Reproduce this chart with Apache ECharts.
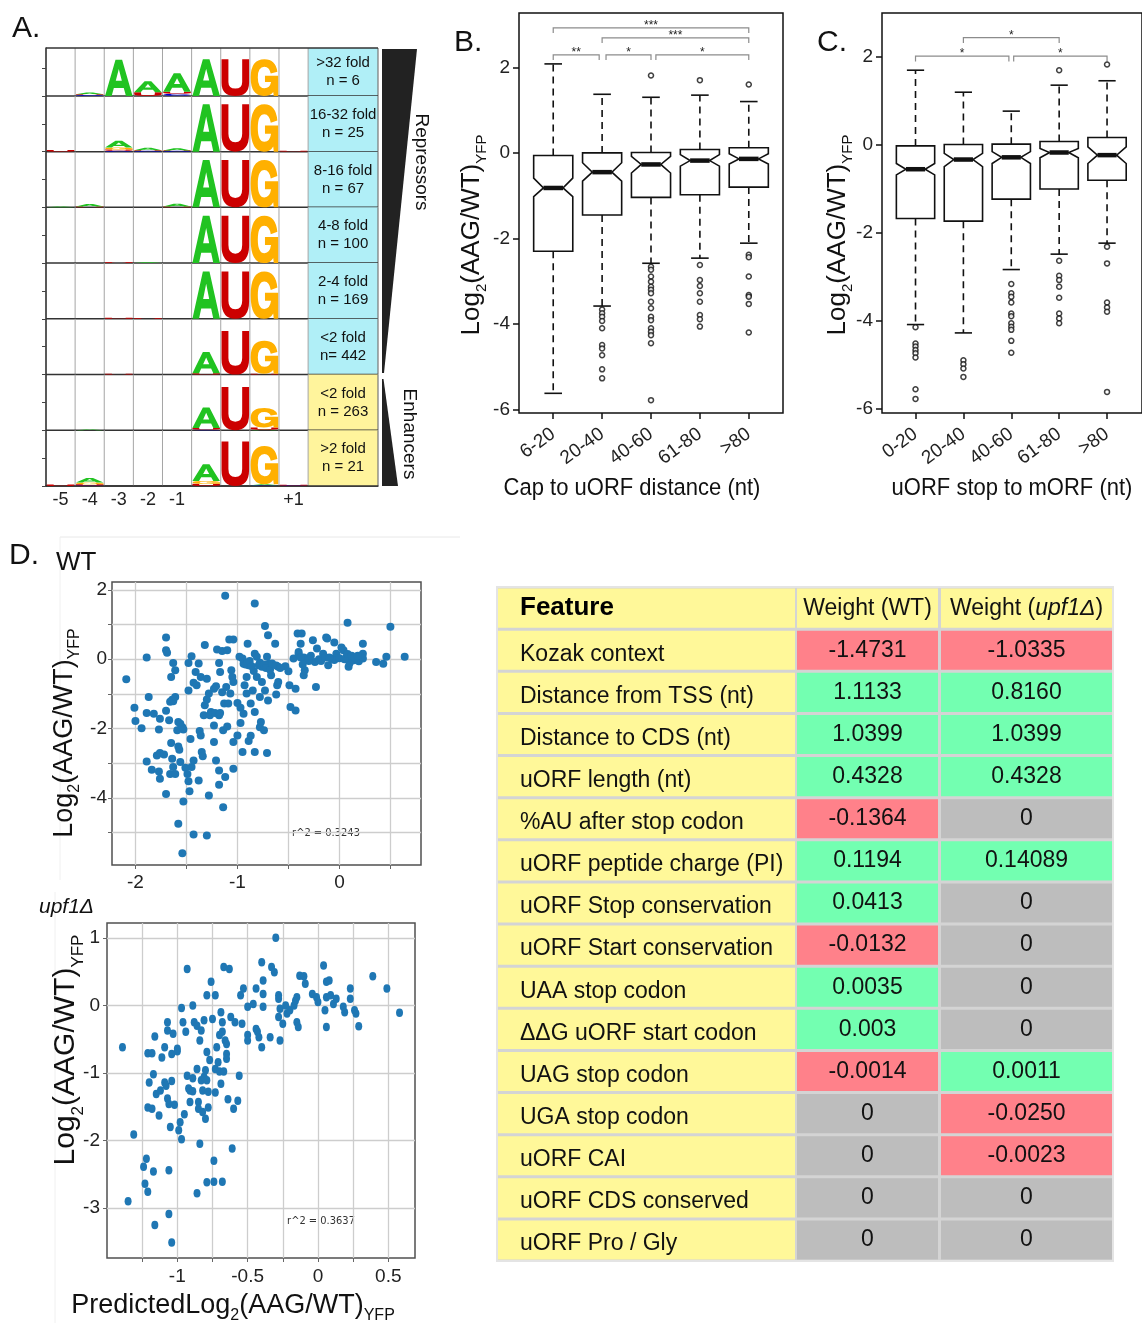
<!DOCTYPE html>
<html><head><meta charset="utf-8">
<script src="https://cdn.jsdelivr.net/npm/echarts@6/dist/echarts.min.js"></script>
<style>html,body{margin:0;padding:0;background:#fff}#c{width:1142px;height:1323px}</style>
</head><body><div id="c"></div>
<script>
// ---------------- DATA ----------------
// Panel A: sequence logos
const logoPositions = ['-5', '-4', '-3', '-2', '-1', '+1'];
const logoPositionCols = [1, 2, 3, 4, 5, 9];
const foldBins = ['>32 fold\nn = 6', '16-32 fold\nn = 25', '8-16 fold\nn = 67', '4-8 fold\nn = 100',
  '2-4 fold\nn = 169', '<2 fold\nn= 442', '<2 fold\nn = 263', '>2 fold\nn = 21'];
const foldClass = ['R', 'R', 'R', 'R', 'R', 'R', 'E', 'E'];
// [row, column, letter, bits]  (stacked bottom-to-top within a cell)
const logoLetters = [
  [0,2,'C',0.03],[0,2,'U',0.03],[0,2,'A',0.06],[0,3,'A',1.30],[0,4,'U',0.13],[0,4,'A',0.40],
  [0,5,'C',0.08],[0,5,'U',0.07],[0,5,'A',0.66],[0,6,'A',1.32],[0,7,'U',1.32],[0,8,'G',1.32],
  [1,1,'U',0.06],[1,3,'C',0.03],[1,3,'U',0.05],[1,3,'G',0.07],[1,3,'A',0.24],[1,4,'C',0.02],[1,4,'U',0.03],[1,4,'A',0.09],
  [1,5,'C',0.02],[1,5,'U',0.02],[1,5,'A',0.08],[1,6,'A',1.70],[1,7,'U',1.70],[1,8,'G',1.70],[1,9,'U',0.02],
  [2,1,'A',0.02],[2,2,'U',0.03],[2,2,'A',0.09],[2,5,'U',0.03],[2,5,'A',0.10],[2,6,'A',1.70],[2,7,'U',1.70],[2,8,'G',1.70],
  [3,3,'U',0.01],[3,4,'A',0.02],[3,6,'A',1.70],[3,7,'U',1.70],[3,8,'G',1.70],
  [4,3,'U',0.04],[4,4,'U',0.02],[4,6,'A',1.70],[4,7,'U',1.70],[4,8,'G',1.70],
  [5,3,'U',0.03],[5,6,'U',0.05],[5,6,'A',0.76],[5,7,'U',1.56],[5,8,'U',0.03],[5,8,'G',1.18],
  [6,2,'A',0.02],[6,6,'C',0.02],[6,6,'U',0.06],[6,6,'A',0.74],[6,7,'U',1.55],[6,8,'A',0.02],[6,8,'U',0.08],[6,8,'G',0.70],
  [7,1,'U',0.05],[7,2,'C',0.02],[7,2,'U',0.04],[7,2,'G',0.07],[7,2,'A',0.16],[7,6,'U',0.08],[7,6,'G',0.10],[7,6,'A',0.60],
  [7,7,'U',1.60],[7,8,'C',0.03],[7,8,'A',0.03],[7,8,'G',1.38],[7,9,'C',0.02],[7,9,'U',0.02]
];

// Panel B: cap to uORF distance
const capCats = ['6-20', '20-40', '40-60', '61-80', '>80'];
// [lower whisker, Q1, median, Q3, upper whisker]
const capBox = [
  [-5.62, -2.30, -0.82, -0.06, 2.08],
  [-3.58, -1.45, -0.45, 0.00, 1.37],
  [-2.58, -1.04, -0.27, 0.01, 1.30],
  [-2.46, -0.98, -0.18, 0.08, 1.35],
  [-2.11, -0.80, -0.14, 0.12, 1.20]
];
const capNotch = [[-1.02, -0.59], [-0.66, -0.23], [-0.47, -0.08], [-0.31, -0.04], [-0.26, -0.02]];
const capOutliers = [
  [],
  [-3.66, -3.75, -3.83, -3.93, -4.10, -4.49, -4.57, -4.73, -5.06, -5.27],
  [1.81, -2.66, -2.73, -2.89, -3.01, -3.13, -3.20, -3.28, -3.48, -3.63, -3.83, -3.91, -4.10, -4.18, -4.26, -4.45, -5.78],
  [1.70, -2.62, -2.97, -3.11, -3.28, -3.48, -3.79, -3.89, -4.06],
  [1.60, -2.38, -2.44, -2.89, -3.32, -3.36, -3.53, -4.20]
];
// [from, to, level, label]
const capSig = [[1, 5, 2.92, '***'], [2, 5, 2.69, '***'], [1, 1.94, 2.29, '**'], [2.08, 3, 2.29, '*'], [3.1, 5, 2.29, '*']];

// Panel C: uORF stop to mORF
const stopCats = ['0-20', '20-40', '40-60', '61-80', '>80'];
const stopBox = [
  [-4.08, -1.67, -0.55, -0.02, 1.70],
  [-4.27, -1.73, -0.33, 0.01, 1.20],
  [-2.83, -1.23, -0.28, 0.02, 0.77],
  [-2.48, -1.00, -0.17, 0.08, 1.36],
  [-2.23, -0.80, -0.23, 0.17, 1.46]
];
const stopNotch = [[-0.68, -0.42], [-0.49, -0.19], [-0.42, -0.15], [-0.29, -0.08], [-0.42, -0.04]];
const stopOutliers = [
  [-4.14, -4.51, -4.58, -4.66, -4.73, -4.83, -5.55, -5.77],
  [-4.89, -4.98, -5.08, -5.27],
  [-3.16, -3.37, -3.45, -3.58, -3.83, -3.89, -4.05, -4.13, -4.20, -4.45, -4.72],
  [1.70, -2.63, -2.97, -3.07, -3.22, -3.47, -3.83, -3.94, -4.05],
  [1.83, -2.31, -2.69, -3.58, -3.69, -3.79, -5.61]
];
const stopSig = [[1, 2.95, 2.02, '*'], [3.05, 5, 2.02, '*'], [2, 4, 2.44, '*']];

// Panel D: predicted vs measured
const wtPoints = [
  [-2.09,-0.58],[-2.01,-1.40],[-2.00,-1.78],[-1.94,-1.99],[-1.89,-1.55],[-1.87,-1.09],[-1.89,0.05],[-1.89,-2.95],[-1.84,-3.19],[-1.82,-1.57],
  [-1.77,-2.03],[-1.79,-2.78],[-1.76,-2.71],[-1.76,-1.72],[-1.77,-3.24],[-1.76,-3.45],[-1.72,-2.75],[-1.70,-3.89],[-1.70,0.63],[-1.70,0.26],
  [-1.69,0.19],[-1.70,-1.49],[-1.67,-1.76],[-1.66,-1.23],[-1.64,-1.17],[-1.63,-1.21],[-1.65,-0.51],[-1.63,-0.11],[-1.61,-0.32],[-1.61,-1.09],
  [-1.65,-2.42],[-1.64,-2.87],[-1.63,-3.11],[-1.66,-3.31],[-1.61,-3.31],[-1.59,-2.05],[-1.58,-1.81],[-1.58,-2.52],[-1.57,-2.61],[-1.56,-1.86],
  [-1.54,-1.96],[-1.56,-2.97],[-1.58,-4.75],[-1.54,-5.60],[-1.53,-4.11],[-1.53,-2.03],[-1.51,-3.13],[-1.49,-3.31],[-1.48,-3.52],[-1.47,-3.81],
  [-1.48,-0.11],[-1.48,-0.90],[-1.45,0.09],[-1.46,-2.30],[-1.45,-3.11],[-1.43,-2.92],[-1.43,-5.06],[-1.43,-0.68],[-1.40,-0.75],[-1.41,-0.37],
  [-1.38,-0.12],[-1.37,-2.07],[-1.36,-2.20],[-1.38,-3.50],[-1.36,-0.51],[-1.35,-2.68],[-1.34,-2.80],[-1.33,-1.62],[-1.32,-1.33],[-1.32,0.41],
  [-1.30,-1.16],[-1.30,-5.09],[-1.30,-0.56],[-1.28,-3.93],[-1.28,-0.99],[-1.27,-1.62],[-1.26,-1.52],[-1.23,-0.85],[-1.23,-2.39],[-1.23,-1.91],
  [-1.22,-1.55],[-1.21,-2.92],[-1.21,-0.78],[-1.20,0.28],[-1.18,-0.11],[-1.18,-1.62],[-1.18,-3.21],[-1.18,-3.62],[-1.17,-1.55],[-1.17,-0.37],
  [-1.15,0.24],[-1.15,-0.95],[-1.14,-4.27],[-1.14,-2.05],[-1.13,-1.28],[-1.12,1.83],[-1.12,-3.40],[-1.11,-0.80],[-1.10,0.26],[-1.10,-1.94],
  [-1.09,-1.28],[-1.08,0.57],[-1.07,-0.99],[-1.06,-0.32],[-1.05,-0.51],[-1.04,-2.39],[-1.04,-3.16],[-1.04,0.57],[-1.04,-0.66],[-1.00,-2.20],
  [-1.00,-1.26],[-0.98,0.07],[-0.97,-1.40],[-0.97,-1.84],[-0.95,-2.68],[-0.95,0.02],[-0.94,-0.13],[-0.94,-1.57],[-0.93,-0.75],[-0.91,-0.99],
  [-0.91,-0.51],[-0.90,0.45],[-0.89,-0.17],[-0.89,-2.36],[-0.87,-1.28],[-0.87,-2.21],[-0.85,-0.90],[-0.84,-0.34],[-0.83,-2.68],[-0.83,1.61],
  [-0.83,0.16],[-0.83,-1.52],[-0.81,-0.51],[-0.81,0.07],[-0.79,-0.17],[-0.78,-1.09],[-0.78,-1.96],[-0.77,-1.81],[-0.76,-0.66],[-0.76,-0.22],
  [-0.74,-2.05],[-0.73,0.96],[-0.73,-0.90],[-0.71,-2.71],[-0.71,0.07],[-0.70,0.69],[-0.70,-1.19],[-0.69,-0.13],[-0.67,-0.46],[-0.63,0.45],
  [-0.62,-1.02],[-0.61,-0.75],[-0.60,-0.22],[-0.60,-0.66],[-0.53,-0.20],[-0.50,-0.35],[-0.49,-0.75],[-0.48,-1.38],[-0.43,-0.85],[-0.43,-1.48],
  [-0.45,0.02],[-0.41,0.74],[-0.40,0.21],[-0.38,0.45],[-0.37,0.74],[-0.35,-0.46],[-0.34,-0.32],[-0.32,0.02],[-0.26,0.55],[-0.23,-0.80],
  [-0.24,-0.08],[-0.22,0.31],[-0.16,0.16],[-0.13,0.63],[-0.12,0.60],[-0.11,-0.17],[-0.08,0.02],[-0.05,0.48],[-0.03,0.16],[0.02,0.34],
  [0.04,0.26],[0.07,0.07],[0.08,1.05],[0.09,-0.22],[0.10,-0.11],[0.14,-0.03],[0.19,-0.06],[0.23,0.45],[0.23,0.16],[0.23,0.02],
  [0.36,-0.08],[0.43,-0.13],[0.46,0.07],[0.50,0.94],[0.64,0.07],
  [-0.92,-0.15],[-0.90,-0.10],[-0.88,-0.05],[-0.86,-0.20],[-0.78,-0.10],[-0.74,-0.15],[-0.72,-0.25],[-0.68,-0.30],[-0.66,-0.12],[-0.62,-0.18],
  [-0.58,-0.25],[-0.35,0.05],[-0.30,-0.05],[-0.28,0.10],[-0.20,0.00],[-0.18,-0.05],[-0.14,0.05],[-0.05,-0.02],[0.00,0.03],[0.05,0.00],
  [0.08,0.15],[0.12,0.10],[0.15,0.05],[0.18,0.10],[-0.10,0.05],[-0.40,0.15],[-0.38,0.05],[-0.36,-0.15]
];
const upfPoints = [
  [-1.39,-0.62],[-1.35,-2.90],[-1.31,-1.91],[-1.24,-2.39],[-1.23,-2.64],[-1.22,-2.27],[-1.21,-2.76],[-1.21,-0.71],[-1.21,-1.51],[-1.20,-1.14],
  [-1.18,-0.71],[-1.18,-1.53],[-1.17,-2.46],[-1.17,-1.02],[-1.16,-0.46],[-1.16,-3.25],[-1.15,-1.31],[-1.13,-1.63],[-1.12,-1.26],[-1.11,-0.77],
  [-1.09,-0.62],[-1.09,-1.14],[-1.08,-1.19],[-1.07,-0.25],[-1.07,-0.37],[-1.07,-1.38],[-1.06,-3.09],[-1.06,-2.44],[-1.06,-1.46],[-1.05,-1.80],
  [-1.04,-0.72],[-1.04,-3.51],[-1.04,-1.12],[-1.03,-0.42],[-1.02,-1.47],[-1.00,-0.68],[-1.00,-0.64],[-0.99,-1.85],[-0.98,-1.73],[-0.97,-1.98],
  [-0.97,-0.04],[-0.96,-0.25],[-0.95,-1.61],[-0.94,-0.39],[-0.93,-1.04],[-0.93,0.54],[-0.92,-1.23],[-0.91,-1.43],[-0.91,-1.26],[-0.89,0.00],
  [-0.89,-1.08],[-0.89,-1.27],[-0.88,-0.25],[-0.86,-0.30],[-0.86,-2.78],[-0.86,-0.94],[-0.85,-1.43],[-0.85,-1.53],[-0.84,-0.52],[-0.84,-2.05],
  [-0.83,-0.37],[-0.83,-1.11],[-0.82,-1.58],[-0.82,-1.26],[-0.81,-0.22],[-0.81,-1.06],[-0.80,-1.68],[-0.80,-0.96],[-0.79,-2.62],[-0.79,-0.69],
  [-0.79,0.15],[-0.79,-1.11],[-0.78,-1.51],[-0.78,-1.28],[-0.77,-0.81],[-0.76,0.35],[-0.75,-0.20],[-0.74,-2.30],[-0.74,-2.61],[-0.73,-0.94],
  [-0.73,-1.29],[-0.73,0.15],[-0.72,-0.62],[-0.71,-0.84],[-0.70,-0.44],[-0.70,-0.98],[-0.69,-1.16],[-0.69,-0.10],[-0.68,-0.39],[-0.68,-2.61],
  [-0.68,-0.25],[-0.67,-0.98],[-0.67,0.57],[-0.66,-0.52],[-0.65,-0.57],[-0.65,-0.72],[-0.65,-0.79],[-0.64,-1.39],[-0.63,0.54],[-0.62,-0.17],
  [-0.61,-2.12],[-0.60,-1.53],[-0.59,-0.25],[-0.57,-1.41],[-0.56,-1.04],[-0.55,0.15],[-0.54,-0.27],[-0.53,0.25],[-0.50,-0.44],[-0.50,-0.52],
  [-0.50,-0.02],[-0.46,0.02],[-0.44,0.25],[-0.44,-0.35],[-0.43,-0.39],[-0.42,-0.47],[-0.40,-0.62],[-0.40,0.64],[-0.39,0.37],[-0.39,0.17],
  [-0.39,-0.02],[-0.34,-0.47],[-0.33,0.57],[-0.31,0.49],[-0.30,1.00],[-0.28,-0.17],[-0.28,0.15],[-0.28,0.10],[-0.27,-0.52],[-0.27,-0.05],
  [-0.25,-0.27],[-0.23,0.00],[-0.22,-0.12],[-0.20,-0.07],[-0.17,0.00],[-0.16,0.07],[-0.15,0.12],[-0.15,-0.25],[-0.14,-0.32],[-0.13,0.44],
  [-0.10,0.43],[-0.09,0.32],[-0.04,0.17],[-0.01,0.12],[0.00,0.05],[0.04,0.59],[0.05,-0.07],[0.06,0.12],[0.06,-0.32],[0.06,0.35],
  [0.08,0.37],[0.09,0.15],[0.11,0.02],[0.13,0.10],[0.18,-0.02],[0.19,-0.10],[0.23,0.25],[0.23,0.10],[0.26,-0.07],[0.27,-0.12],
  [0.29,-0.31],[0.39,0.43],[0.49,0.25],[0.58,-0.11]
];
const wtR2 = 'r^2 = 0.3243';
const upfR2 = 'r^2 = 0.3637';

// Panel D table
const features = ['Kozak context', 'Distance from TSS (nt)', 'Distance to CDS (nt)', 'uORF length (nt)', '%AU after stop codon',
  'uORF peptide charge (PI)', 'uORF Stop conservation', 'uORF Start conservation', 'UAA stop codon', '\u0394\u0394G uORF start codon',
  'UAG stop codon', 'UGA stop codon', 'uORF CAI', 'uORF CDS conserved', 'uORF Pro / Gly'];
const weightWT = ['-1.4731', '1.1133', '1.0399', '0.4328', '-0.1364', '0.1194', '0.0413', '-0.0132', '0.0035', '0.003', '-0.0014', '0', '0', '0', '0'];
const weightUpf1 = ['-1.0335', '0.8160', '1.0399', '0.4328', '0', '0.14089', '0', '0', '0', '0', '0.0011', '-0.0250', '-0.0023', '0', '0'];

// ---------------- STYLE / LAYOUT ----------------
const FONT = '"Liberation Sans", Arial, Helvetica, sans-serif';
const LETTER_COLORS = { A: '#21c321', U: '#cc0000', G: '#ffb000', C: '#0000cc' };
const LETTER_PATHS = {
  A: 'M0,100 L38,0 L62,0 L100,100 L76,100 L68,78 L32,78 L24,100 Z M39,58 L61,58 L50,26 Z',
  U: 'M0,0 L25,0 L25,62 Q25,80 50,80 Q75,80 75,62 L75,0 L100,0 L100,64 Q100,100 50,100 Q0,100 0,64 Z',
  G: 'M97,34 L73,39 Q68,21 50,21 Q26,21 26,50 Q26,79 50,79 Q70,79 74,62 L52,62 L52,45 L100,45 L100,100 L84,100 L82,89 Q72,100 48,100 Q0,100 0,50 Q0,0 50,0 Q91,0 97,34 Z',
  C: 'M100,64 Q94,100 50,100 Q0,100 0,50 Q0,0 50,0 Q94,0 100,36 L76,40 Q72,20 50,20 Q26,20 26,50 Q26,80 50,80 Q72,80 76,60 Z'
};
const CELL = { neg: '#ff818a', pos: '#73ffb1', zero: '#bdbdbd', label: '#fff899' };
const LOGO_Y_MIN = 0.14;   // first logo row is partly cropped in the figure

// build logo stacks
const stackTop = {};
const logoBuilt = logoLetters.map(([row, col, letter, bits]) => {
  const key = row + '_' + col;
  const base = stackTop[key] || 0;
  stackTop[key] = base + bits;
  return { row, col, letter, bottom: row + 1 - base / 2, top: row + 1 - (base + bits) / 2 };
});

function logRich(main, sub, prefix) {
  return {
    text: (prefix ? '{m|' + prefix + '}' : '') + '{m|Log}{s|2}{m|(AAG/WT)}{s|YFP}',
    rich: {
      m: { fontSize: main, fontFamily: FONT, fill: '#111', lineHeight: Math.round(main * 1.35) },
      s: { fontSize: sub, fontFamily: FONT, fill: '#111', verticalAlign: 'bottom', lineHeight: sub }
    }
  };
}

function boxRender(stats, notches) {
  return function (params, api) {
    const i = params.dataIndex;
    const [lo, q1, med, q3, hi] = stats[i];
    const [nLo, nHi] = notches[i];
    const x = i + 1, bw = 0.4, mw = 0.2, sw = 0.18;
    const P = (a, b) => api.coord([a, b]);
    const poly = [P(x - bw, q1), P(x - bw, nLo), P(x - mw, med), P(x - bw, nHi), P(x - bw, q3),
      P(x + bw, q3), P(x + bw, nHi), P(x + mw, med), P(x + bw, nLo), P(x + bw, q1)];
    const ln = (a, b, dash, w) => ({ type: 'line', shape: { x1: a[0], y1: a[1], x2: b[0], y2: b[1] },
      style: { stroke: '#111', lineWidth: w || 1.6, lineDash: dash || null } });
    return { type: 'group', children: [
      ln(P(x, q3), P(x, hi), [7, 5]), ln(P(x, q1), P(x, lo), [7, 5]),
      ln(P(x - sw, hi), P(x + sw, hi)), ln(P(x - sw, lo), P(x + sw, lo)),
      { type: 'polygon', shape: { points: poly }, style: { fill: '#fff', stroke: '#111', lineWidth: 1.6 } },
      ln(P(x - mw, med), P(x + mw, med), null, 4.5)
    ] };
  };
}
function sigRender(sig) {
  return function (params, api) {
    const [a, b, lvl, lab] = sig[params.dataIndex];
    const drop = 0.12;
    const p1 = api.coord([a, lvl - drop]), p2 = api.coord([a, lvl]), p3 = api.coord([b, lvl]), p4 = api.coord([b, lvl - drop]);
    return { type: 'group', children: [
      { type: 'polyline', shape: { points: [p1, p2, p3, p4] }, style: { stroke: '#8c8c8c', lineWidth: 1.2, fill: null } },
      { type: 'text', x: (p2[0] + p3[0]) / 2, y: p2[1] - 2,
        style: { text: lab, fontSize: 12, fontFamily: FONT, fill: '#222', textAlign: 'center', textVerticalAlign: 'middle' } }
    ] };
  };
}
function outlierData(list) {
  const out = [];
  list.forEach((vals, i) => vals.forEach(v => out.push([i + 1, v])));
  return out;
}

// ---------------- CHART ----------------
const chart = echarts.init(document.getElementById('c'), null, { renderer: 'canvas' });
const hidden = { show: false };
const rLabel = (cats) => ({ customValues: [1, 2, 3, 4, 5], formatter: v => cats[Math.round(v) - 1], rotate: 36,
  fontSize: 19, color: '#222', fontFamily: FONT, margin: 19 });
const rTick = (vals) => ({ show: true, customValues: vals, length: 6, lineStyle: { color: '#111', width: 1.5 } });
const logoTicks = [];
for (let t = 0.5; t <= 8; t += 0.5) logoTicks.push(t);

const option = {
  animation: false,
  backgroundColor: '#fff',
  textStyle: { fontFamily: FONT },
  grid: [
    { left: 46, top: 48, width: 332, height: 438 },
    { left: 519, top: 13, width: 264, height: 400, show: true, borderColor: '#111', borderWidth: 1.5, backgroundColor: 'transparent' },
    { left: 882, top: 13, width: 266, height: 400, show: true, borderColor: '#111', borderWidth: 1.5, backgroundColor: 'transparent' },
    { left: 112, top: 582, width: 309, height: 283, show: true, borderColor: '#505050', borderWidth: 1.5, backgroundColor: '#fff' },
    { left: 107, top: 923, width: 308, height: 335, show: true, borderColor: '#505050', borderWidth: 1.5, backgroundColor: '#fff' },
    { left: 497, top: 587, width: 616, height: 674, show: true, borderColor: '#e4e4e4', borderWidth: 2, backgroundColor: '#d4d4d4' }
  ],
  xAxis: [
    { gridIndex: 0, type: 'value', min: 0.5, max: 11.9,
      axisLine: { show: true, onZero: false, lineStyle: { color: '#222', width: 1.5 } }, axisTick: hidden, splitLine: hidden,
      axisLabel: { customValues: logoPositionCols, formatter: v => logoPositions[logoPositionCols.indexOf(Math.round(v))],
        fontSize: 18, color: '#222', fontFamily: FONT, margin: 5 } },
    { gridIndex: 1, type: 'value', min: 0.3, max: 5.7, axisLine: { show: false, onZero: false },
      axisTick: rTick([1, 2, 3, 4, 5]), axisLabel: rLabel(capCats), splitLine: hidden },
    { gridIndex: 2, type: 'value', min: 0.3, max: 5.73, axisLine: { show: false, onZero: false },
      axisTick: rTick([1, 2, 3, 4, 5]), axisLabel: rLabel(stopCats), splitLine: hidden },
    { gridIndex: 3, type: 'value', min: -2.23, max: 0.8, axisLine: { show: false, onZero: false },
      axisTick: { show: true, customValues: [-2, -1.5, -1, -0.5, 0, 0.5], length: 4, lineStyle: { color: '#666' } },
      axisLabel: { customValues: [-2, -1, 0], fontSize: 19, color: '#222', fontFamily: FONT, margin: 8 },
      splitLine: { show: true, lineStyle: { color: '#cdcdcd', width: 1.3 } } },
    { gridIndex: 4, type: 'value', min: -1.5, max: 0.69, axisLine: { show: false, onZero: false },
      axisTick: { show: true, customValues: [-1.25, -1, -0.75, -0.5, -0.25, 0, 0.25, 0.5], length: 4, lineStyle: { color: '#666' } },
      axisLabel: { customValues: [-1, -0.5, 0, 0.5], fontSize: 19, color: '#222', fontFamily: FONT, margin: 9 },
      splitLine: { show: true, lineStyle: { color: '#cdcdcd', width: 1.3 } } },
    { gridIndex: 5, type: 'value', min: 0, max: 1, show: false }
  ],
  yAxis: [
    { gridIndex: 0, type: 'value', min: LOGO_Y_MIN, max: 8, inverse: true,
      axisLine: { show: true, onZero: false, lineStyle: { color: '#222', width: 1.5 } },
      axisTick: { show: true, customValues: logoTicks, length: 4, lineStyle: { color: '#444' } }, axisLabel: hidden, splitLine: hidden },
    { gridIndex: 1, type: 'value', min: -6.08, max: 3.27, axisLine: { show: false, onZero: false },
      axisTick: rTick([-6, -4, -2, 0, 2]),
      axisLabel: { customValues: [-6, -4, -2, 0, 2], fontSize: 19, color: '#222', fontFamily: FONT, margin: 9 }, splitLine: hidden },
    { gridIndex: 2, type: 'value', min: -6.09, max: 3.0, axisLine: { show: false, onZero: false },
      axisTick: rTick([-6, -4, -2, 0, 2]),
      axisLabel: { customValues: [-6, -4, -2, 0, 2], fontSize: 19, color: '#222', fontFamily: FONT, margin: 9 }, splitLine: hidden },
    { gridIndex: 3, type: 'value', min: -5.94, max: 2.23, axisLine: { show: false, onZero: false },
      axisTick: { show: true, customValues: [-5, -4, -3, -2, -1, 0, 1, 2], length: 4, lineStyle: { color: '#666' } },
      axisLabel: { customValues: [-4, -2, 0, 2], fontSize: 19, color: '#222', fontFamily: FONT, margin: 5 },
      splitLine: { show: true, lineStyle: { color: '#cdcdcd', width: 1.3 } } },
    { gridIndex: 4, type: 'value', min: -3.74, max: 1.22, axisLine: { show: false, onZero: false },
      axisTick: { show: true, customValues: [-3, -2, -1, 0, 1], length: 4, lineStyle: { color: '#666' } },
      axisLabel: { customValues: [-3, -2, -1, 0, 1], fontSize: 19, color: '#222', fontFamily: FONT, margin: 7 },
      splitLine: { show: true, lineStyle: { color: '#cdcdcd', width: 1.3 } } },
    { gridIndex: 5, type: 'category', data: ['Feature'].concat(features), inverse: true, show: false }
  ],
  series: [
    // Panel A frame + fold-bin cells
    { type: 'custom', xAxisIndex: 0, yAxisIndex: 0, z: 2,
      data: foldBins.map((t, i) => [10.7, i + 0.5]), encode: { x: 0, y: 1 },
      renderItem: (params, api) => {
        const i = params.dataIndex;
        const tl = api.coord([0.5, Math.max(i, LOGO_Y_MIN)]), br = api.coord([11.9, i + 1]);
        const cx0 = api.coord([9.5, i + 0.5])[0];
        const ch = [
          { type: 'rect', shape: { x: cx0, y: tl[1], width: br[0] - cx0, height: br[1] - tl[1] },
            style: { fill: foldClass[i] === 'R' ? '#b0eff7' : '#fff49c' } }
        ];
        for (let k = 1; k <= 9; k++) {
          const x = api.coord([k + 0.5, i + 0.5])[0];
          ch.push({ type: 'line', shape: { x1: x, y1: tl[1], x2: x, y2: br[1] }, style: { stroke: '#a5a5a5', lineWidth: 1 } });
        }
        ch.push({ type: 'line', shape: { x1: br[0], y1: tl[1], x2: br[0], y2: br[1] }, style: { stroke: '#777', lineWidth: 1.2 } });
        ch.push({ type: 'line', shape: { x1: tl[0], y1: br[1], x2: br[0], y2: br[1] }, style: { stroke: '#333', lineWidth: 1.5 } });
        if (i === 0) ch.push({ type: 'line', shape: { x1: tl[0], y1: tl[1], x2: br[0], y2: tl[1] }, style: { stroke: '#333', lineWidth: 1.5 } });
        ch.push({ type: 'text', x: (cx0 + br[0]) / 2, y: (tl[1] + br[1]) / 2,
          style: { text: foldBins[i], fontSize: 15, lineHeight: 18, fontFamily: FONT, fill: '#111', textAlign: 'center', textVerticalAlign: 'middle' } });
        return { type: 'group', children: ch };
      } },
    // Panel A letters
    { type: 'custom', xAxisIndex: 0, yAxisIndex: 0, z: 3,
      data: logoBuilt.map(d => [d.col, (d.top + d.bottom) / 2]), encode: { x: 0, y: 1 },
      renderItem: (params, api) => {
        const d = logoBuilt[params.dataIndex];
        const p0 = api.coord([d.col - 0.5, d.bottom]), p1 = api.coord([d.col + 0.5, d.top]);
        const x = Math.min(p0[0], p1[0]) + 0.8, w = Math.abs(p1[0] - p0[0]) - 1.6;
        const h = Math.max(Math.abs(p1[1] - p0[1]), 0.8);
        const y = Math.max(p0[1], p1[1]) - h;
        return { type: 'path', shape: { pathData: LETTER_PATHS[d.letter], x, y, width: w, height: h, layout: 'cover' },
          style: { fill: LETTER_COLORS[d.letter] } };
      } },
    // Panel B
    { type: 'custom', xAxisIndex: 1, yAxisIndex: 1, z: 3, data: capBox.map((b, i) => [i + 1, b[0], b[4]]), encode: { x: 0, y: [1, 2] },
      renderItem: boxRender(capBox, capNotch) },
    { type: 'scatter', xAxisIndex: 1, yAxisIndex: 1, z: 4, data: outlierData(capOutliers), symbol: 'circle', symbolSize: 5,
      itemStyle: { color: '#fff', borderColor: '#111', borderWidth: 1.5 } },
    { type: 'custom', xAxisIndex: 1, yAxisIndex: 1, z: 3, data: capSig.map(s => [s[0], s[2]]), encode: { x: 0, y: 1 },
      renderItem: sigRender(capSig) },
    // Panel C
    { type: 'custom', xAxisIndex: 2, yAxisIndex: 2, z: 3, data: stopBox.map((b, i) => [i + 1, b[0], b[4]]), encode: { x: 0, y: [1, 2] },
      renderItem: boxRender(stopBox, stopNotch) },
    { type: 'scatter', xAxisIndex: 2, yAxisIndex: 2, z: 4, data: outlierData(stopOutliers), symbol: 'circle', symbolSize: 5,
      itemStyle: { color: '#fff', borderColor: '#111', borderWidth: 1.5 } },
    { type: 'custom', xAxisIndex: 2, yAxisIndex: 2, z: 3, data: stopSig.map(s => [s[0], s[2]]), encode: { x: 0, y: 1 },
      renderItem: sigRender(stopSig) },
    // Panel D scatters
    { type: 'scatter', xAxisIndex: 3, yAxisIndex: 3, data: wtPoints, symbolSize: 8, itemStyle: { color: '#1f77b4', opacity: 1 } },
    { type: 'scatter', xAxisIndex: 4, yAxisIndex: 4, data: upfPoints, symbolSize: [7, 8.5], itemStyle: { color: '#1f77b4', opacity: 1 } },
    // Table
    { type: 'custom', xAxisIndex: 5, yAxisIndex: 5, data: ['Feature'].concat(features).map((f, i) => [0.5, i]), encode: { x: 0, y: 1 },
      renderItem: (params, api) => {
        const i = params.dataIndex;
        const cs = params.coordSys;
        const c = api.coord([0.5, i]);
        const band = api.size([0, 1])[1];
        const top = c[1] - band / 2 + 1.5, h = band - 3, cy = c[1];
        const cols = [[1, 298], [300, 441], [444, 615]];
        const colFill = v => (v === '0' ? CELL.zero : (v.charAt(0) === '-' ? CELL.neg : CELL.pos));
        const ch = [];
        if (i === 0) {
          cols.forEach(cc => ch.push({ type: 'rect', shape: { x: cs.x + cc[0], y: top, width: cc[1] - cc[0], height: h }, style: { fill: CELL.label } }));
          ch.push({ type: 'text', x: cs.x + 23, y: cy, style: { text: 'Feature', fontSize: 26, fontWeight: 'bold', fontFamily: FONT, fill: '#000', textAlign: 'left', textVerticalAlign: 'middle' } });
          ch.push({ type: 'text', x: cs.x + (cols[1][0] + cols[1][1]) / 2, y: cy + 1, style: { text: 'Weight (WT)', fontSize: 23, fontFamily: FONT, fill: '#111', textAlign: 'center', textVerticalAlign: 'middle' } });
          ch.push({ type: 'text', x: cs.x + (cols[2][0] + cols[2][1]) / 2, y: cy + 1, style: { text: '{n|Weight (}{i|upf1\u0394}{n|)}',
            rich: { n: { fontSize: 23, fontFamily: FONT, fill: '#111' }, i: { fontSize: 23, fontFamily: FONT, fontStyle: 'italic', fill: '#111' } },
            textAlign: 'center', textVerticalAlign: 'middle' } });
        } else {
          const wt = weightWT[i - 1], up = weightUpf1[i - 1];
          ch.push({ type: 'rect', shape: { x: cs.x + cols[0][0], y: top, width: cols[0][1] - cols[0][0], height: h }, style: { fill: CELL.label } });
          ch.push({ type: 'rect', shape: { x: cs.x + cols[1][0], y: top, width: cols[1][1] - cols[1][0], height: h }, style: { fill: colFill(wt) } });
          ch.push({ type: 'rect', shape: { x: cs.x + cols[2][0], y: top, width: cols[2][1] - cols[2][0], height: h }, style: { fill: colFill(up) } });
          ch.push({ type: 'text', x: cs.x + 23, y: cy + 4, style: { text: features[i - 1], fontSize: 23, fontFamily: FONT, fill: '#111', textAlign: 'left', textVerticalAlign: 'middle' } });
          ch.push({ type: 'text', x: cs.x + (cols[1][0] + cols[1][1]) / 2, y: cy, style: { text: wt, fontSize: 23, fontFamily: FONT, fill: '#111', textAlign: 'center', textVerticalAlign: 'middle' } });
          ch.push({ type: 'text', x: cs.x + (cols[2][0] + cols[2][1]) / 2, y: cy, style: { text: up, fontSize: 23, fontFamily: FONT, fill: '#111', textAlign: 'center', textVerticalAlign: 'middle' } });
        }
        return { type: 'group', children: ch };
      } }
  ],
  graphic: [
    // faint crop lines
    { type: 'line', shape: { x1: 60, y1: 537, x2: 460, y2: 537 }, style: { stroke: '#e8e8e8', lineWidth: 1 } },
    { type: 'line', shape: { x1: 60, y1: 537, x2: 60, y2: 880 }, style: { stroke: '#f0f0f0', lineWidth: 1 } },
    { type: 'line', shape: { x1: 55, y1: 892, x2: 55, y2: 1323 }, style: { stroke: '#f0f0f0', lineWidth: 1 } },
    // panel A
    { type: 'text', x: 12, y: 29, style: { text: 'A.', fontSize: 30, fontFamily: FONT, fill: '#111', textAlign: 'left', textVerticalAlign: 'middle' } },
    { type: 'polygon', shape: { points: [[382, 49], [417, 49], [384, 373], [382, 373]] }, style: { fill: '#222' } },
    { type: 'polygon', shape: { points: [[382, 379], [383.5, 379], [398, 486], [382, 486]] }, style: { fill: '#222' } },
    { type: 'text', x: 421, y: 162, rotation: -Math.PI / 2, style: { text: 'Repressors', fontSize: 19, fontFamily: FONT, fill: '#111', textAlign: 'center', textVerticalAlign: 'middle' } },
    { type: 'text', x: 409, y: 434, rotation: -Math.PI / 2, style: { text: 'Enhancers', fontSize: 19, fontFamily: FONT, fill: '#111', textAlign: 'center', textVerticalAlign: 'middle' } },
    // panel B
    { type: 'text', x: 454, y: 43, style: { text: 'B.', fontSize: 30, fontFamily: FONT, fill: '#111', textAlign: 'left', textVerticalAlign: 'middle' } },
    { type: 'text', x: 472, y: 235, rotation: Math.PI / 2, style: Object.assign(logRich(26, 15), { textAlign: 'center', textVerticalAlign: 'middle' }) },
    { type: 'text', x: 632, y: 488, scaleY: 1.12, style: { text: 'Cap to uORF distance (nt)', fontSize: 22, fontFamily: FONT, fill: '#111', textAlign: 'center', textVerticalAlign: 'middle' } },
    // panel C
    { type: 'text', x: 817, y: 43, style: { text: 'C.', fontSize: 30, fontFamily: FONT, fill: '#111', textAlign: 'left', textVerticalAlign: 'middle' } },
    { type: 'text', x: 838, y: 235, rotation: Math.PI / 2, style: Object.assign(logRich(26, 15), { textAlign: 'center', textVerticalAlign: 'middle' }) },
    { type: 'text', x: 1012, y: 488, scaleY: 1.12, style: { text: 'uORF stop to mORF (nt)', fontSize: 22, fontFamily: FONT, fill: '#111', textAlign: 'center', textVerticalAlign: 'middle' } },
    // panel D
    { type: 'text', x: 9, y: 556, style: { text: 'D.', fontSize: 30, fontFamily: FONT, fill: '#111', textAlign: 'left', textVerticalAlign: 'middle' } },
    { type: 'text', x: 56, y: 563, style: { text: 'WT', fontSize: 26, fontFamily: FONT, fill: '#111', textAlign: 'left', textVerticalAlign: 'middle' } },
    { type: 'text', x: 65, y: 733, rotation: Math.PI / 2, style: Object.assign(logRich(27, 16), { textAlign: 'center', textVerticalAlign: 'middle' }) },
    { type: 'text', x: 326, y: 833, style: { text: wtR2, fontSize: 11, fontFamily: '"DejaVu Sans Condensed", "DejaVu Sans", sans-serif', fill: '#333', textAlign: 'center', textVerticalAlign: 'middle' } },
    { type: 'text', x: 39, y: 907, style: { text: 'upf1\u0394', fontSize: 21, fontStyle: 'italic', fontFamily: FONT, fill: '#111', textAlign: 'left', textVerticalAlign: 'middle' } },
    { type: 'text', x: 66, y: 1050, rotation: Math.PI / 2, style: Object.assign(logRich(30, 17), { textAlign: 'center', textVerticalAlign: 'middle' }) },
    { type: 'text', x: 321, y: 1221, style: { text: upfR2, fontSize: 11, fontFamily: '"DejaVu Sans Condensed", "DejaVu Sans", sans-serif', fill: '#333', textAlign: 'center', textVerticalAlign: 'middle' } },
    { type: 'text', x: 233, y: 1306, style: Object.assign(logRich(27, 16, 'Predicted'), { textAlign: 'center', textVerticalAlign: 'middle' }) }
  ]
};
chart.setOption(option);
</script>
</body></html>
